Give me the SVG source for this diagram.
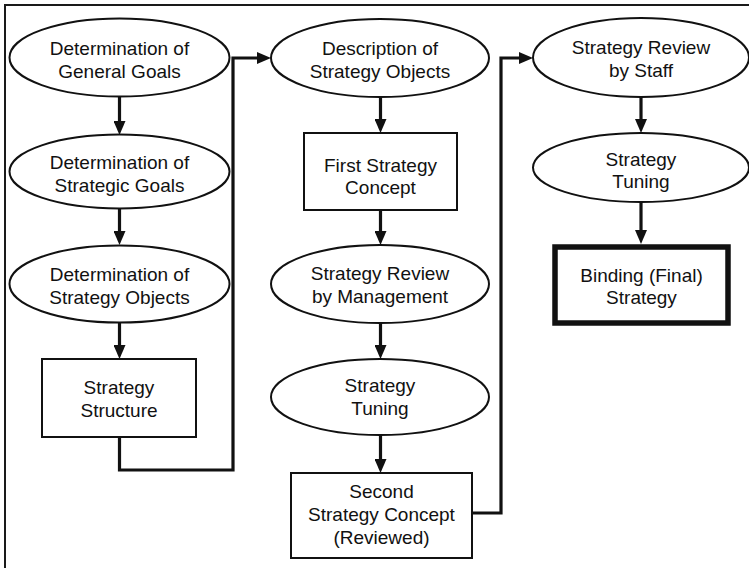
<svg xmlns="http://www.w3.org/2000/svg" width="749" height="568" viewBox="0 0 749 568">
  <style>
    .node ellipse, .node rect { fill: #ffffff; stroke: #111111; stroke-width: 2; }
    .node.final rect { stroke-width: 5.5; }
    .node text { font-family: "Liberation Sans", Arial, sans-serif; font-size: 19px; fill: #111111; text-anchor: middle; }
    .edge { fill: none; stroke: #111111; stroke-width: 3.2; stroke-linejoin: miter; }
    .frame { fill: none; stroke: #1a1a1a; stroke-width: 2; }
  </style>
  <defs>
    <marker id="arrow" markerUnits="userSpaceOnUse" markerWidth="14" markerHeight="12" refX="2" refY="6" orient="auto">
      <path d="M0,0 L14,6 L0,12 z" fill="#111111"/>
    </marker>
  </defs>

  <rect x="0" y="0" width="749" height="568" fill="#ffffff"/>
  <!-- outer frame, right and bottom edges fall outside the page -->
  <rect class="frame" x="5" y="5" width="800" height="620"/>

  <!-- connectors -->
  <g id="connectors">
    <path class="edge" marker-end="url(#arrow)" d="M119.5,97 V123"/>
    <path class="edge" marker-end="url(#arrow)" d="M119.5,208 V233"/>
    <path class="edge" marker-end="url(#arrow)" d="M119.5,323 V347"/>
    <path class="edge" marker-end="url(#arrow)" d="M119.5,437 V470 H233 V58 H259"/>
    <path class="edge" marker-end="url(#arrow)" d="M380.5,97 V121"/>
    <path class="edge" marker-end="url(#arrow)" d="M380.5,210 V233"/>
    <path class="edge" marker-end="url(#arrow)" d="M380.5,323 V347"/>
    <path class="edge" marker-end="url(#arrow)" d="M380.5,435 V461"/>
    <path class="edge" marker-end="url(#arrow)" d="M472,513 H501 V58 H521"/>
    <path class="edge" marker-end="url(#arrow)" d="M641,97 V121"/>
    <path class="edge" marker-end="url(#arrow)" d="M641,202 V232"/>
  </g>

  <!-- column 1 -->
  <g id="general-goals" class="node">
    <ellipse cx="119.5" cy="57.5" rx="110" ry="39"/>
    <text x="119.5" y="55">Determination of</text>
    <text x="119.5" y="77.5">General Goals</text>
  </g>
  <g id="strategic-goals" class="node">
    <ellipse cx="119.5" cy="171.5" rx="110" ry="37"/>
    <text x="119.5" y="169">Determination of</text>
    <text x="119.5" y="191.5">Strategic Goals</text>
  </g>
  <g id="strategy-objects" class="node">
    <ellipse cx="119.5" cy="284" rx="110" ry="38.5"/>
    <text x="119.5" y="281">Determination of</text>
    <text x="119.5" y="303.5">Strategy Objects</text>
  </g>
  <g id="strategy-structure" class="node">
    <rect x="42" y="359" width="154" height="78"/>
    <text x="119" y="394">Strategy</text>
    <text x="119" y="417">Structure</text>
  </g>

  <!-- column 2 -->
  <g id="description-objects" class="node">
    <ellipse cx="380" cy="58" rx="109" ry="39"/>
    <text x="380" y="55">Description of</text>
    <text x="380" y="77.5">Strategy Objects</text>
  </g>
  <g id="first-concept" class="node">
    <rect x="304" y="133" width="153" height="77"/>
    <text x="380.5" y="172">First Strategy</text>
    <text x="380.5" y="194">Concept</text>
  </g>
  <g id="review-management" class="node">
    <ellipse cx="380" cy="284" rx="109" ry="39"/>
    <text x="380" y="280">Strategy Review</text>
    <text x="380" y="303">by Management</text>
  </g>
  <g id="tuning-1" class="node">
    <ellipse cx="380" cy="397" rx="109" ry="38"/>
    <text x="380" y="392">Strategy</text>
    <text x="380" y="415">Tuning</text>
  </g>
  <g id="second-concept" class="node">
    <rect x="291" y="473" width="181" height="85"/>
    <text x="381.5" y="498">Second</text>
    <text x="381.5" y="521">Strategy Concept</text>
    <text x="381.5" y="544">(Reviewed)</text>
  </g>

  <!-- column 3 -->
  <g id="review-staff" class="node">
    <ellipse cx="641" cy="57.5" rx="108" ry="39.5"/>
    <text x="641" y="54">Strategy Review</text>
    <text x="641" y="77">by Staff</text>
  </g>
  <g id="tuning-2" class="node">
    <ellipse cx="641" cy="167.5" rx="108" ry="34.5"/>
    <text x="641" y="166">Strategy</text>
    <text x="641" y="188">Tuning</text>
  </g>
  <g id="binding-strategy" class="node final">
    <rect x="555" y="247" width="173" height="76"/>
    <text x="641.5" y="282">Binding (Final)</text>
    <text x="641.5" y="304">Strategy</text>
  </g>
</svg>
